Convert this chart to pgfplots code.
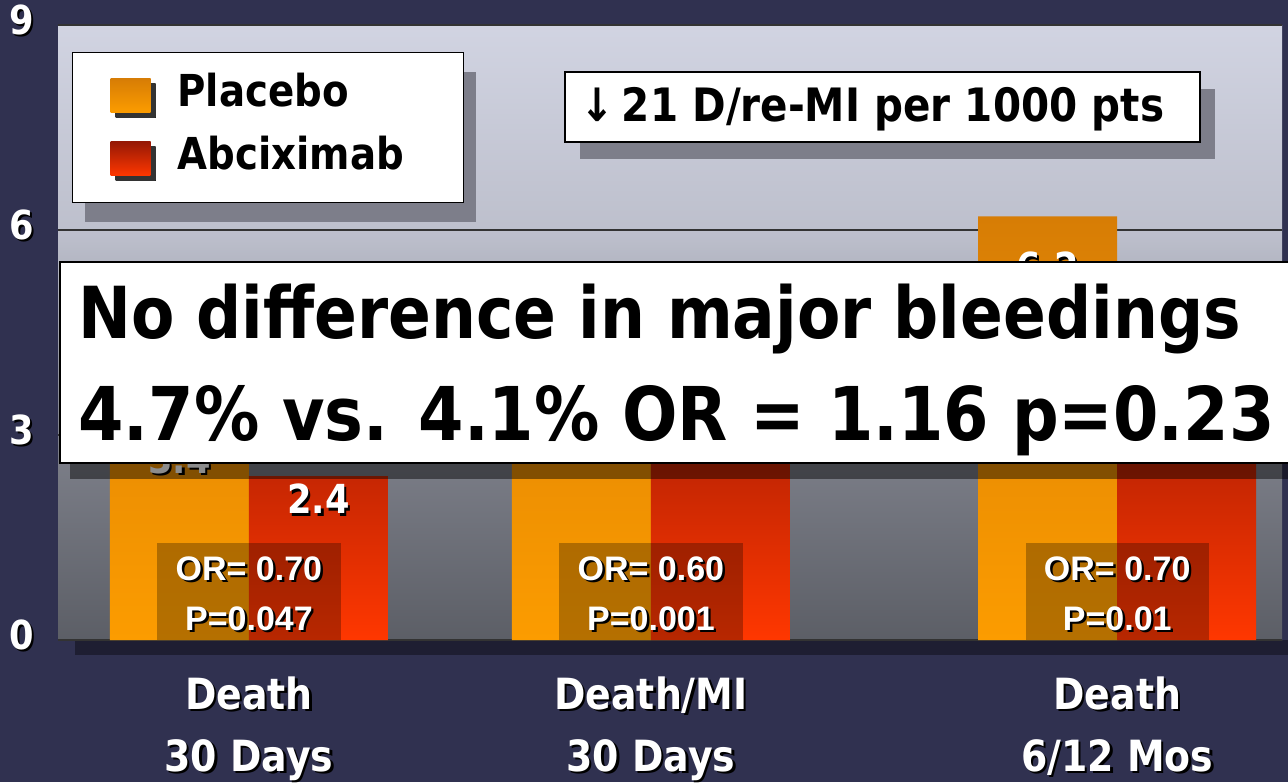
\documentclass[border=0pt]{standalone}
\usepackage{pgfplots}
\pgfplotsset{compat=1.18}
\usepackage{fontspec}
\setmainfont{DejaVu Sans}[FakeStretch=0.88]
\newfontfamily\libsans{Liberation Sans}

\definecolor{navy}{RGB}{48,49,80}
\definecolor{floorband}{RGB}{30,30,50}
\definecolor{plac}{RGB}{252,156,0}
\definecolor{placTop}{RGB}{215,125,5}
\definecolor{abcTop}{RGB}{150,25,5}
\definecolor{abcBot}{RGB}{255,55,0}
\definecolor{boxshade}{RGB}{125,126,138}

\pgfdeclareverticalshading{plotbg}{100bp}{%
  rgb(0bp)=(0.36,0.37,0.40); rgb(25bp)=(0.36,0.37,0.40);
  rgb(42bp)=(0.50,0.51,0.55); rgb(58bp)=(0.74,0.75,0.80);
  rgb(75bp)=(0.82,0.83,0.885); rgb(100bp)=(0.82,0.83,0.885)}

% white text with a dark drop shadow
\newcommand\sh[1]{\leavevmode\rlap{\kern1.2bp\raisebox{-1.2bp}{\color{black}#1}}{\color{white}#1}}

\pgfplotsset{sqleg/.style={legend image code/.code={%
  \fill[##1, top color=black!80, bottom color=black!80] (2.5bp,-11bp) rectangle (22.5bp,6bp);
  \fill[##1] (0bp,-8.5bp) rectangle (20bp,8.5bp);}}}

\begin{document}
\begin{tikzpicture}[x=1bp,y=1bp]
\fill[navy] (0,0) rectangle (644,391);
\fill[floorband] (37.5,63.5) rectangle (644,71);

\begin{axis}[
  at={(29bp,71bp)}, anchor=south west,
  scale only axis, width=612bp, height=307.5bp,
  xmin=-0.475, xmax=2.570, ymin=0, ymax=9,
  axis line style={draw=none},
  axis background/.style={shade, shading=plotbg},
  ybar=0pt, bar width=69.5bp,
  major tick length=0pt,
  ytick={0,3,6,9}, yticklabels={\sh{0},\sh{3},\sh{6},\sh{9}},
  yticklabel style={font=\fontsize{20bp}{20bp}\selectfont\bfseries, inner sep=0pt, anchor=east, xshift=-12bp, yshift=2bp},
  xtick={0,1,2.16},
  xticklabels={{\sh{Death}\\\sh{30 Days}},{\sh{Death/MI}\\\sh{30 Days}},{\sh{Death}\\\sh{6/12 Mos}}},
  xticklabel style={align=center, font=\fontsize{21.5bp}{31bp}\selectfont\bfseries, inner sep=0pt, anchor=north, yshift=-18bp},
  ymajorgrids, grid style={black!80, line width=0.7bp},
  legend style={at={(0.0114,0.956)}, anchor=north west, draw=black, line width=0.6bp, fill=white,
    inner xsep=19bp, inner ysep=11bp, row sep=10bp,
    font=\fontsize{22bp}{22bp}\selectfont\bfseries,
    nodes={text width=124bp, inner sep=0pt, text height=16bp, text depth=5bp},
    /tikz/every odd column/.append style={column sep=11bp}},
  legend cell align=left,
  nodes near coords={\sh{\pgfmathprintnumber[fixed,precision=1,fixed zerofill,assume math mode=true]{\pgfplotspointmeta}}},
  every node near coord/.append style={font=\fontsize{20bp}{20bp}\selectfont\bfseries, anchor=center},
]
% legend shadow
\fill[boxshade] (rel axis cs:0.0221,0.6797) rectangle (rel axis cs:0.3415,0.9236);

\addplot[draw=none, top color=placTop, bottom color=plac, sqleg,
  every node near coord/.append style={yshift=-26bp}]
  coordinates {(0,3.4) (1,5.3) (2.16,6.2)};
\addlegendentry{Placebo}
\addplot[draw=none, top color=abcTop, bottom color=abcBot, sqleg,
  every node near coord/.append style={yshift=-12bp}]
  coordinates {(0,2.4) (1,3.2) (2.16,4.4)};
\addlegendentry{Abciximab}

% odds-ratio boxes
\foreach \c/\o/\p in {0/0.70/0.047, 1/0.60/0.001, 2.16/0.70/0.01}{
  \edef\temp{\noexpand\fill[black, opacity=0.28] (axis cs:\c-0.228,0) rectangle (axis cs:\c+0.228,1.42);
    \noexpand\node[font=\noexpand\libsans\noexpand\bfseries\noexpand\fontsize{17bp}{17bp}\noexpand\selectfont, yshift=35bp] at (axis cs:\c,0) {\noexpand\sh{OR= \o}};
    \noexpand\node[font=\noexpand\libsans\noexpand\bfseries\noexpand\fontsize{17bp}{17bp}\noexpand\selectfont, yshift=10bp] at (axis cs:\c,0) {\noexpand\sh{P=\p}};}
  \temp
}
\end{axis}

% annotation box
\fill[boxshade] (290,311.5) rectangle (607.5,346.5);
\fill[white, draw=black, line width=0.6bp] (282.5,320) rectangle (600,355);
\node[anchor=base west, inner sep=0pt, font=\fontsize{23bp}{23bp}\selectfont\bfseries] at (290,330.5) {↓\,21 D/re-MI per 1000 pts};

% overlay box
\fill[black, opacity=0.45] (35,151.5) rectangle (665,252);
\fill[white, draw=black, line width=0.6bp] (30,159.5) rectangle (660,260);
\node[anchor=base west, inner sep=0pt, font=\bfseries] at (39,222) {\resizebox{581bp}{!}{No difference in major bleedings}};
\node[anchor=base west, inner sep=0pt, font=\bfseries] at (39,171) {\resizebox{598bp}{!}{4.7\% vs. 4.1\% OR = 1.16 p=0.23}};

\pgfresetboundingbox
\path[use as bounding box] (0,0) rectangle (644,391);
\end{tikzpicture}
\end{document}
